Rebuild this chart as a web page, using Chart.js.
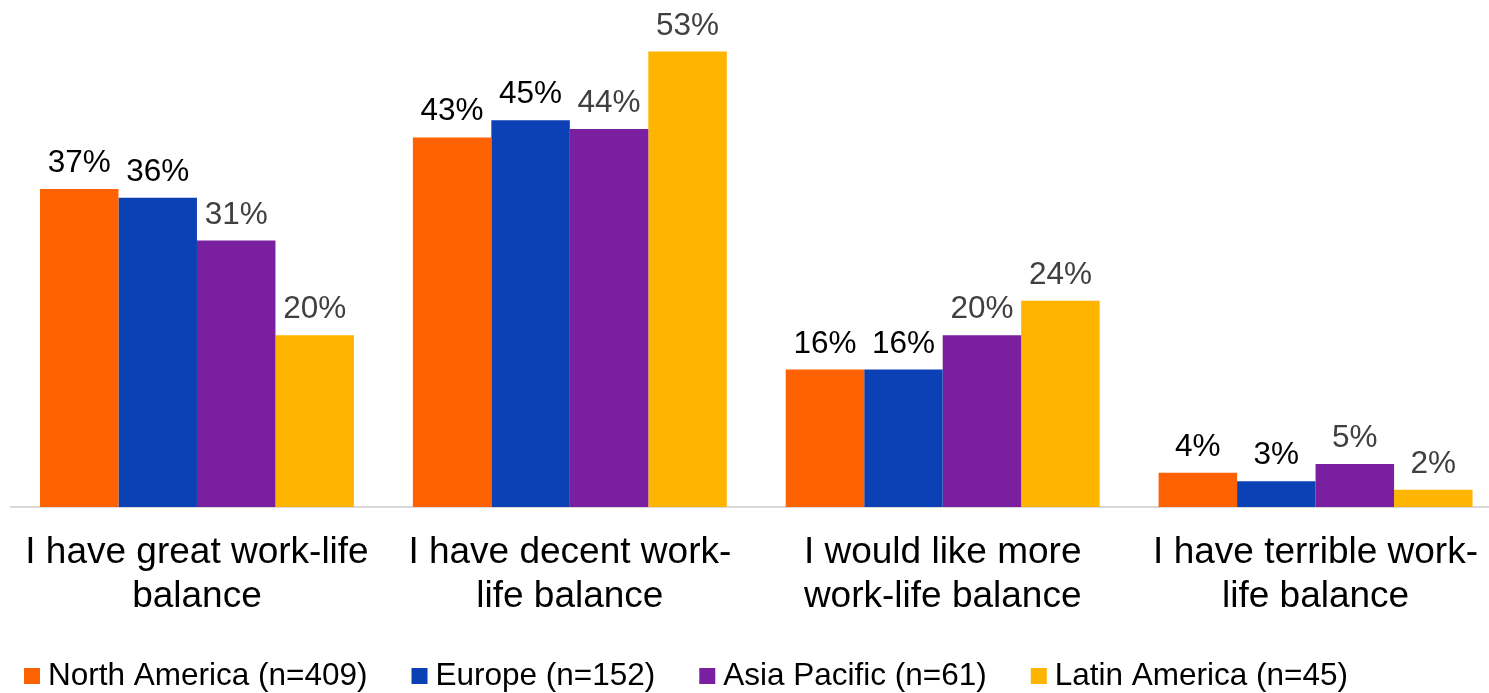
<!DOCTYPE html>
<html>
<head>
<meta charset="utf-8">
<script src="https://cdn.jsdelivr.net/npm/chart.js@4/dist/chart.umd.min.js"></script>
<style>
  html, body { margin: 0; padding: 0; background: #fff; overflow: hidden; }
  #wrap { position: relative; width: 1503px; height: 693px; }
</style>
</head>
<body>
<div id="wrap"><canvas id="chart"></canvas></div>
<script>
// Work-life balance answers by region (percent of respondents)
const categories = [
  ['I have great work-life', 'balance'],
  ['I have decent work-', 'life balance'],
  ['I would like more', 'work-life balance'],
  ['I have terrible work-', 'life balance']
];
const seriesNames = [
  'North America (n=409)',
  'Europe (n=152)',
  'Asia Pacific (n=61)',
  'Latin America (n=45)'
];
const northAmerica = [37, 43, 16, 4];
const europe       = [36, 45, 16, 3];
const asiaPacific  = [31, 44, 20, 5];
const latinAmerica = [20, 53, 24, 2];

const seriesValues = [northAmerica, europe, asiaPacific, latinAmerica];
const seriesColors = ['#ff6203', '#0b41b5', '#7a1fa0', '#ffb400'];
const labelColors  = ['#000000', '#000000', '#404040', '#404040'];

const FONT = '"Liberation Sans", Arial, Helvetica, sans-serif';

// Percent labels above every bar, placed from the bar elements
const valueLabels = {
  id: 'valueLabels',
  afterDatasetsDraw(chart) {
    const ctx = chart.ctx;
    ctx.save();
    ctx.font = '31.5px ' + FONT;
    ctx.textAlign = 'center';
    ctx.textBaseline = 'alphabetic';
    chart.data.datasets.forEach((ds, di) => {
      const meta = chart.getDatasetMeta(di);
      ctx.fillStyle = labelColors[di];
      meta.data.forEach((bar, i) => {
        ctx.fillText(ds.data[i] + '%', bar.x, bar.y - 17);
      });
    });
    ctx.restore();
  }
};

// Legend row along the bottom edge
const bottomKey = {
  id: 'bottomKey',
  afterDraw(chart) {
    const ctx = chart.ctx;
    ctx.save();
    ctx.font = '31.5px ' + FONT;
    ctx.textAlign = 'left';
    ctx.textBaseline = 'middle';
    let x = 24;
    const cy = 676;
    chart.data.datasets.forEach((ds) => {
      ctx.fillStyle = ds.backgroundColor;
      ctx.fillRect(x, cy - 8, 16, 16);
      ctx.fillStyle = '#000000';
      ctx.fillText(ds.label, x + 24, cy);
      x += 24 + ctx.measureText(ds.label).width + 44;
    });
    ctx.restore();
  }
};

new Chart(document.getElementById('chart'), {
  type: 'bar',
  data: {
    labels: categories,
    datasets: seriesNames.map((name, i) => ({
      label: name,
      data: seriesValues[i],
      backgroundColor: seriesColors[i],
      borderWidth: 0,
      categoryPercentage: 0.842,
      barPercentage: 1.0
    }))
  },
  options: {
    responsive: true,
    maintainAspectRatio: false,
    animation: false,
    layout: { padding: { left: 10, right: 1, top: 0, bottom: 0 } },
    plugins: {
      legend: { display: false },
      tooltip: { enabled: false }
    },
    scales: {
      y: {
        display: false,
        min: 0,
        max: 59
      },
      x: {
        grid: { display: false, drawTicks: false },
        border: { display: true, color: '#d9d9d9', width: 2 },
        ticks: {
          color: '#000000',
          padding: 24,
          maxRotation: 0,
          autoSkip: false,
          font: { family: FONT, size: 37, lineHeight: 1.19 }
        },
        afterFit(scale) { scale.height = 186; }
      }
    }
  },
  plugins: [valueLabels, bottomKey]
});
</script>
</body>
</html>
